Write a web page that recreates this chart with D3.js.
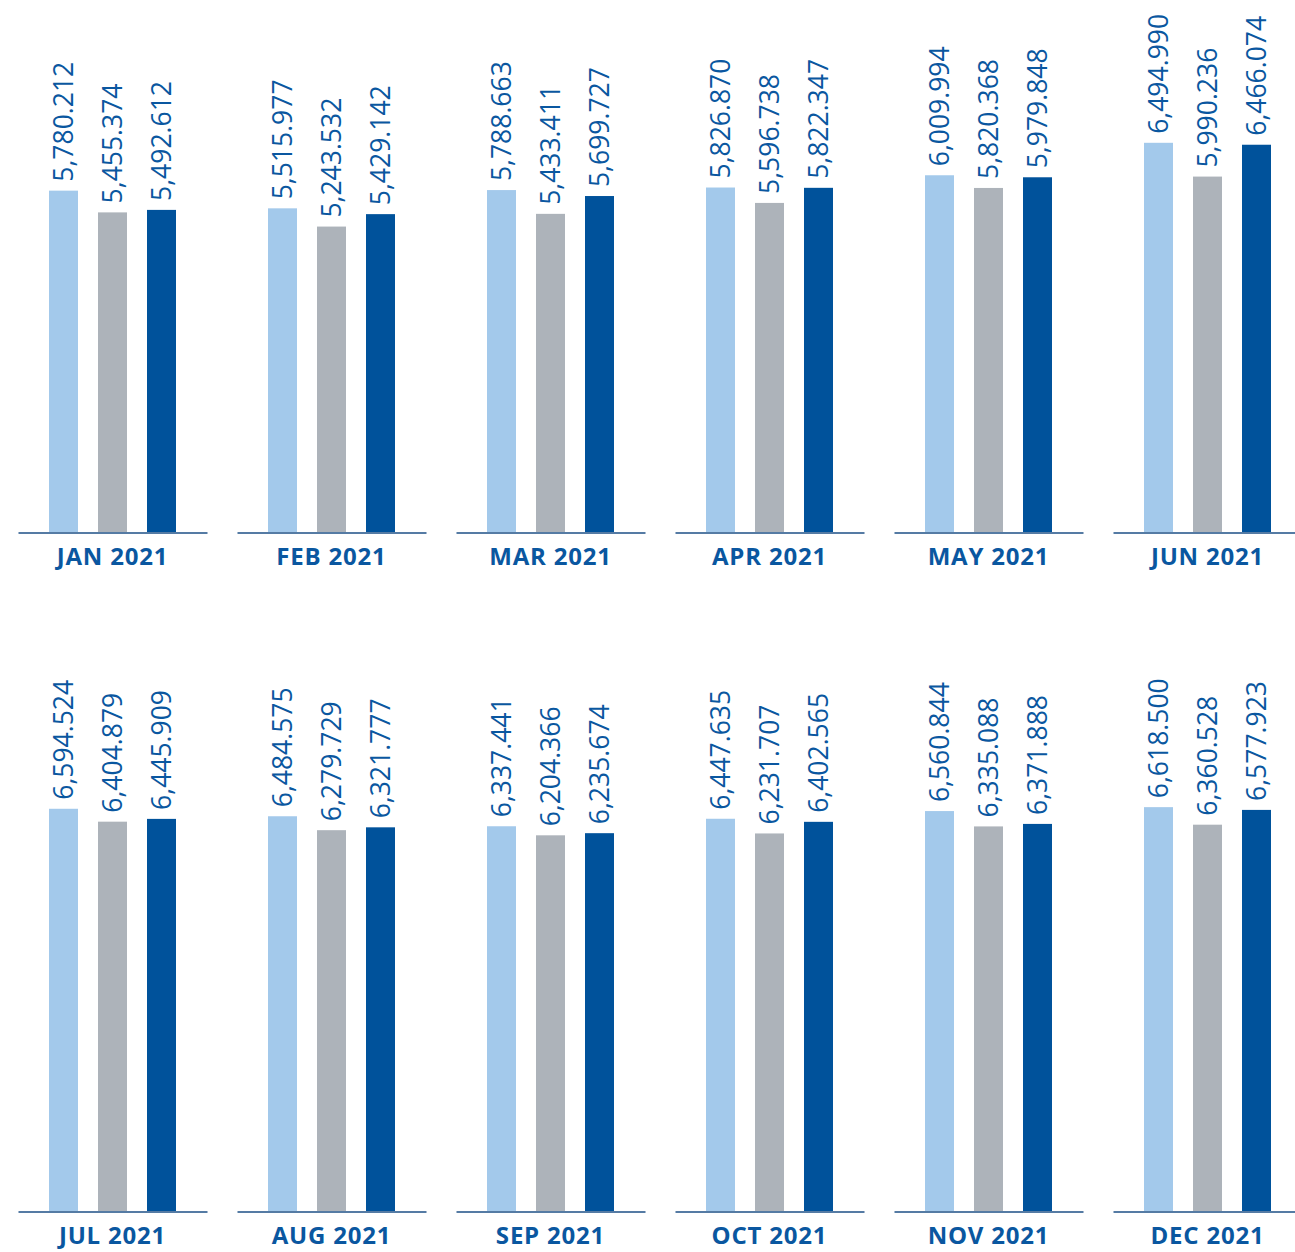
<!DOCTYPE html>
<html>
<head>
<meta charset="utf-8">
<script src="https://cdn.jsdelivr.net/npm/d3@7"></script>
<style>
  html, body { margin: 0; padding: 0; background: #ffffff; }
  svg { display: block; }
</style>
</head>
<body>
<script>
// ---- Data ----
const months = ["JAN 2021","FEB 2021","MAR 2021","APR 2021","MAY 2021","JUN 2021",
                "JUL 2021","AUG 2021","SEP 2021","OCT 2021","NOV 2021","DEC 2021"];
const seriesNames = ["s1","s2","s3"];
const series1 = [5780.212,5515.977,5788.663,5826.870,6009.994,6494.990,
                 6594.524,6484.575,6337.441,6447.635,6560.844,6618.500];
const series2 = [5455.374,5243.532,5433.411,5596.738,5820.368,5990.236,
                 6404.879,6279.729,6204.366,6231.707,6335.088,6360.528];
const series3 = [5492.612,5429.142,5699.727,5822.347,5979.848,6466.074,
                 6445.909,6321.777,6235.674,6402.565,6371.888,6577.923];
const colors = ["#a3c9eb","#adb3ba","#00529b"];

// ---- Layout ----
const W = 1295, H = 1252;
const svg = d3.select("body").append("svg").attr("width", W).attr("height", H);

const rows = [
  { months: months.slice(0,6), idx: [0,1,2,3,4,5], baseline: 532, height: 423 },
  { months: months.slice(6),   idx: [6,7,8,9,10,11], baseline: 1211, height: 429.8 }
];

const fmt = d3.format(",.3f");
const textColor = "#0a57a0";

rows.forEach(row => {
  const x = d3.scaleBand().domain(row.months).range([18, 1302]).paddingInner(30/219).paddingOuter(0);
  const xs = d3.scaleBand().domain(seriesNames).range([31, 158]).paddingInner(20/49).paddingOuter(0);
  const y = d3.scaleLinear().domain([680, 7000]).range([row.baseline, row.baseline - row.height]);

  const g = svg.append("g");
  row.idx.forEach((mi, k) => {
    const m = months[mi];
    const vals = [series1[mi], series2[mi], series3[mi]];
    const pg = g.append("g").attr("transform", `translate(${x(m)},0)`);

    pg.selectAll("rect").data(vals).join("rect")
      .attr("x", (d,i) => xs(seriesNames[i]))
      .attr("width", xs.bandwidth())
      .attr("y", d => y(d))
      .attr("height", d => row.baseline - y(d))
      .attr("fill", (d,i) => colors[i]);

    pg.selectAll("text.val").data(vals).join("text")
      .attr("class","val")
      .attr("transform", (d,i) => `translate(${xs(seriesNames[i]) + xs.bandwidth()/2},${y(d) - 9}) rotate(-90)`)
      .attr("dy", "0.36em")
      .attr("text-anchor","start")
      .attr("font-family","'Open Sans', sans-serif")
      .attr("font-size", 26.5)
      .attr("fill", textColor)
      .text(d => fmt(d));

    // axis baseline
    const axis = d3.axisBottom(d3.scaleLinear().range([0, x.bandwidth()])).ticks(0).tickSizeOuter(0);
    const ag = pg.append("g").attr("transform", `translate(0,${row.baseline + 0.5})`).call(axis);
    ag.select(".domain").attr("stroke", "#1d4f86").attr("stroke-width", 1.6);
    ag.selectAll(".tick").remove();

    pg.append("text")
      .attr("x", x.bandwidth()/2)
      .attr("y", row.baseline + 33)
      .attr("text-anchor","middle")
      .attr("font-family","'Open Sans', sans-serif")
      .attr("font-weight", 700)
      .attr("font-size", 24)
      .attr("letter-spacing", 0.8)
      .attr("fill", textColor)
      .text(m);
  });
});
</script>
</body>
</html>
